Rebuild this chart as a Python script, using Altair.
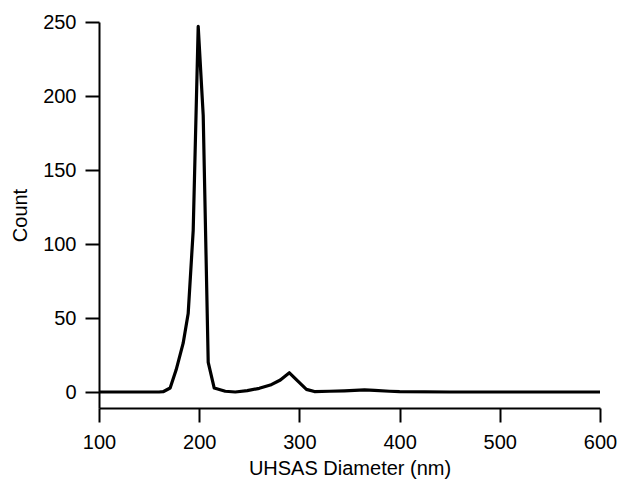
import altair as alt
import pandas as pd

diameter = [100, 120, 140, 160, 164, 171, 177, 184, 189, 194, 199, 204, 209, 215,
            226, 236, 248, 260, 271, 281, 290, 299, 307, 315, 330, 345, 355, 365,
            375, 390, 400, 450, 500, 550, 600]
count = [0, 0, 0, 0, 0.2, 2.7, 15, 33, 53, 109, 247, 187, 20, 2.7,
         0.5, 0, 0.9, 2.5, 4.7, 8.1, 13, 7, 1.8, 0.3, 0.5, 0.8, 1.1, 1.5,
         1.1, 0.5, 0.2, 0, 0, 0, 0]

x_ticks = [100, 200, 300, 400, 500, 600]
y_ticks = [0, 50, 100, 150, 200, 250]

df = pd.DataFrame({"d": diameter, "c": count})

font = "Liberation Sans"

chart = alt.Chart(df).mark_line(color="black", strokeWidth=3.2, strokeJoin="round").encode(
    x=alt.X("d:Q", scale=alt.Scale(domain=[100, 600], nice=False, zero=False),
            axis=alt.Axis(title="UHSAS Diameter (nm)", values=x_ticks, grid=False,
                          tickSize=14, tickWidth=2, domainWidth=2, domainColor="black",
                          tickColor="black", labelFont=font, labelFontSize=20,
                          labelColor="black", labelPadding=10, labelFlush=False,
                          titleFont=font,
                          titleFontSize=20, titleFontWeight="normal", titleColor="black",
                          titlePadding=6)),
    y=alt.Y("c:Q", scale=alt.Scale(domain=[-10.8, 250], nice=False, zero=False),
            axis=alt.Axis(title="Count", values=y_ticks, grid=False,
                          tickSize=14, tickWidth=2, domainWidth=2, domainColor="black",
                          tickColor="black", labelFont=font, labelFontSize=20,
                          labelColor="black", labelPadding=9, labelFlush=False,
                          titleFont=font,
                          titleFontSize=20, titleFontWeight="normal", titleColor="black",
                          titlePadding=12)),
).properties(
    width=501, height=386,
    autosize=alt.AutoSizeParams(type="none"),
    padding={"left": 91, "top": 14, "right": 17, "bottom": 76},
).configure_view(stroke=None)

chart.save("out.html", embed_options={"renderer": "svg", "actions": False})
